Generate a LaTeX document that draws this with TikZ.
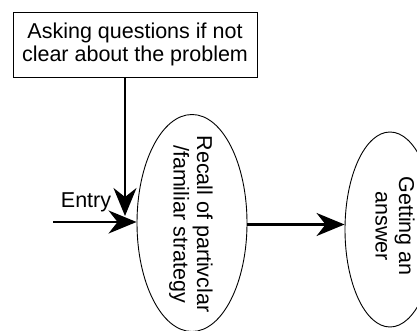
\documentclass[tikz,border=0pt]{standalone}
\usepackage{fontspec}
\setmainfont{Liberation Sans}
\usetikzlibrary{shapes.geometric,arrows.meta,calc}
\begin{document}
\begin{tikzpicture}[x=1pt,y=-1pt,
  every node/.style={font=\fontsize{21.5}{23.5}\selectfont, inner sep=0pt},
  askbox/.style={draw, line width=0.9pt, minimum width=244pt, minimum height=65pt, align=center},
  oval/.style={draw, ellipse, line width=0.9pt},
  flow/.style={line width=2.2pt, -{Stealth[length=28pt,width=23pt,inset=9pt]}}
]
\clip (0,0) rectangle (417,331);
\useasboundingbox (0,0) rectangle (417,331);

% question box at the top
\node[askbox] (ask) at (135,44.5) {Asking questions if not\\clear about the problem};

% recall strategy oval with text running downwards
\node[oval, minimum width=110pt, minimum height=217pt] (recall) at (192,223) {};
\node (recalltext) at (190,224) {\rotatebox{-90}{\begin{tabular}{@{}c@{}}Recall of partivclar\\/familiar strategy\end{tabular}}};

% answer oval
\node[oval, minimum width=90pt, minimum height=195pt] (answer) at (390,229.5) {};
\node (answertext) at (392,226) {\rotatebox{-90}{\begin{tabular}{@{}c@{}}Getting an\\answer\end{tabular}}};

% entry arrow
\coordinate (start) at (53,222);
\draw[flow] (start) -- (start -| recall.west);
\node (entry) at (86,202) {Entry};

% arrow from the question box
\coordinate (drop) at (125,216);
\draw[flow] (ask.south -| drop) -- (drop);

% recall to answer
\draw[flow] (recall.east |- 0,224.5) -- (answer.west |- 0,224.5);
\end{tikzpicture}
\end{document}
